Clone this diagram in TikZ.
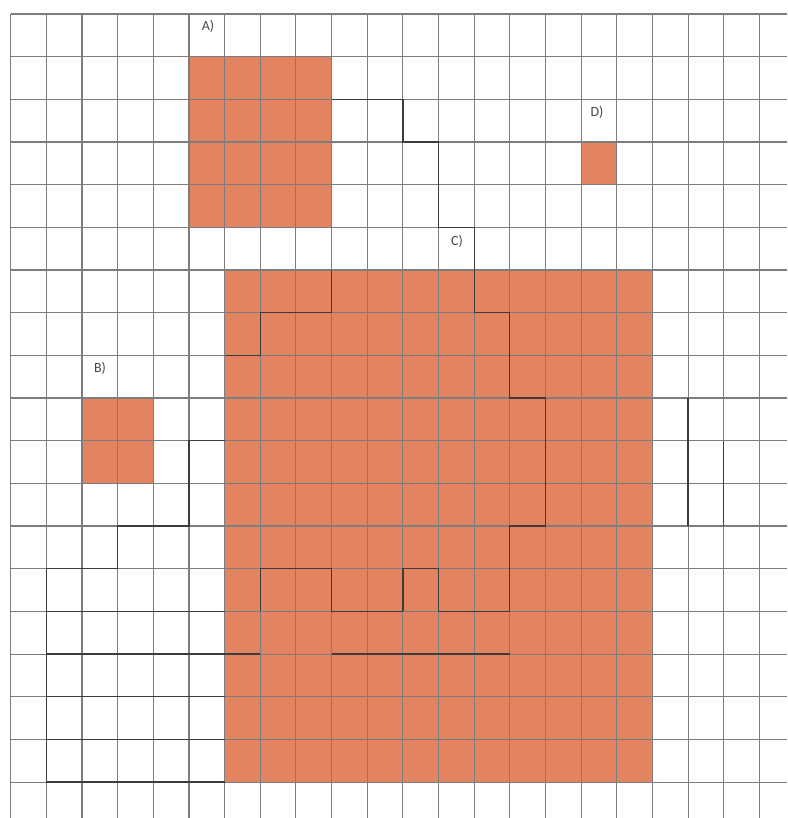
\documentclass[tikz,border=0pt]{standalone}
\usepackage{fontspec}
\newfontfamily\labelfont{Carlito}
\definecolor{tileorange}{RGB}{226,132,98}
\definecolor{gridgray}{RGB}{125,125,125}
\definecolor{pengray}{RGB}{60,60,60}
\definecolor{labelgray}{RGB}{70,70,70}
\begin{document}
\begin{tikzpicture}[x=1pt,y=-1pt,
  gridline/.style={draw=gridgray, line width=1.1pt},
  pen/.style={draw=pengray, line width=1.3pt, line join=miter},
  patch/.style={fill=tileorange, draw=none},
  lbl/.style={font=\labelfont\fontsize{14}{14}\selectfont, text=labelgray, inner sep=0pt}]
\useasboundingbox (0,0) rectangle (787,818);
\fill[white] (0,0) rectangle (787,818);
\begin{scope}[shift={(10.7pt,-14pt)}, x=35.65pt, y=-42.67pt]
  % orange patches
  \fill[patch] (5,1) rectangle (9,5);
  \fill[patch] (2,9) rectangle (4,11);
  \fill[patch] (6,6) rectangle (18,18);
  \fill[patch] (16,3) rectangle (17,4);
  % grid
  \foreach \i in {0,...,21} \draw[gridline] (\i,0) -- (\i,18.85);
  \foreach \j in {0,...,18} \draw[gridline] (0,\j) -- (21.78,\j);
  % darker pen traces
  \draw[pen] (9,2) -- (11,2) -- (11,3) -- (12,3) -- (12,5) -- (13,5) -- (13,7)
             -- (14,7) -- (14,9) -- (15,9) -- (15,12) -- (14,12) -- (14,14)
             -- (12,14) -- (12,13) -- (11,13) -- (11,14);
  \draw[pen] (9,6) -- (9,7) -- (7,7) -- (7,8) -- (6,8);
  \draw[pen] (7,14) -- (7,13) -- (9,13) -- (9,14) -- (11,14);
  \draw[pen] (6,15) -- (7,15);
  \draw[pen] (9,15) -- (14,15);
  \draw[pen] (6,10) -- (5,10) -- (5,12) -- (3,12) -- (3,13) -- (1,13) -- (1,18);
  \draw[pen] (1,14) -- (6,14);
  \draw[pen] (1,15) -- (7,15);
  \draw[pen] (1,16) -- (6,16);
  \draw[pen] (1,17) -- (6,17);
  \draw[pen] (1,18) -- (6,18);
  \draw[pen] (19,9) -- (19,12);
  \draw[pen] (20,10) -- (20,12);
\end{scope}
% labels
\node[lbl] (labA) at (208,26) {A)};
\node[lbl] (labB) at (100,368) {B)};
\node[lbl] (labC) at (457,241) {C)};
\node[lbl] (labD) at (597,112) {D)};
\end{tikzpicture}
\end{document}
